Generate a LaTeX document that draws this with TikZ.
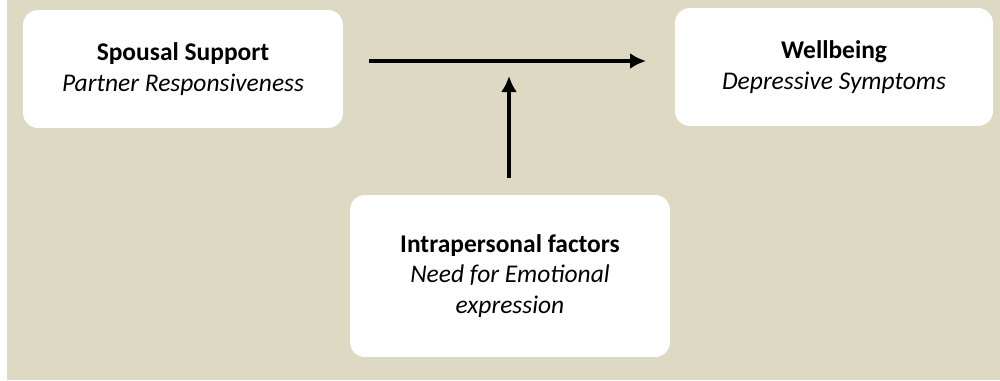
\documentclass[tikz,border=0pt]{standalone}
\usepackage{fontspec}
\setmainfont{Carlito}
\usepackage{tikz}
\usetikzlibrary{arrows.meta}
\usetikzlibrary{positioning}
\definecolor{panel}{HTML}{DDD9C3}

\begin{document}
\begin{tikzpicture}[
x=0.02cm, y=-0.02cm,
MyBox/.style={fill=white,draw=none,rounded corners=15*0.02cm,align=center,
  font=\fontsize{14.5}{17.5}\selectfont,inner sep=0pt},
MyArrow/.style={-{Latex[length=0.32cm, width=0.32cm]},line width=0.08cm,black}
]
% page and panel
\useasboundingbox (0,0) rectangle (1000,380);
\fill[white] (0,0) rectangle (1000,380);
\fill[panel] (6.5,0) rectangle (1000,380);

% the three boxes
\node[MyBox, minimum width=6.4cm, minimum height=2.36cm] (Support) at (183,69)
  {\textbf{Spousal Support}\\ \textit{Partner Responsiveness}};
\node[MyBox, minimum width=6.36cm, minimum height=2.36cm] (Wellbeing) at (834,67)
  {\textbf{Wellbeing}\\ \textit{Depressive Symptoms}};
\node[MyBox, minimum width=6.4cm, minimum height=3.24cm] (Factors) at (510,276)
  {\textbf{Intrapersonal factors}\\ \textit{Need for Emotional}\\ \textit{expression}};

% free ends of the arrows
\coordinate (HStart) at (369,61);
\coordinate (HEnd) at (646,61);
\coordinate (VEnd) at (509,76);

\draw[MyArrow] (HStart) -- (HEnd);
\draw[MyArrow] ([yshift=17*0.02cm]Factors.north -| VEnd) -- (VEnd);

\end{tikzpicture}
\end{document}
